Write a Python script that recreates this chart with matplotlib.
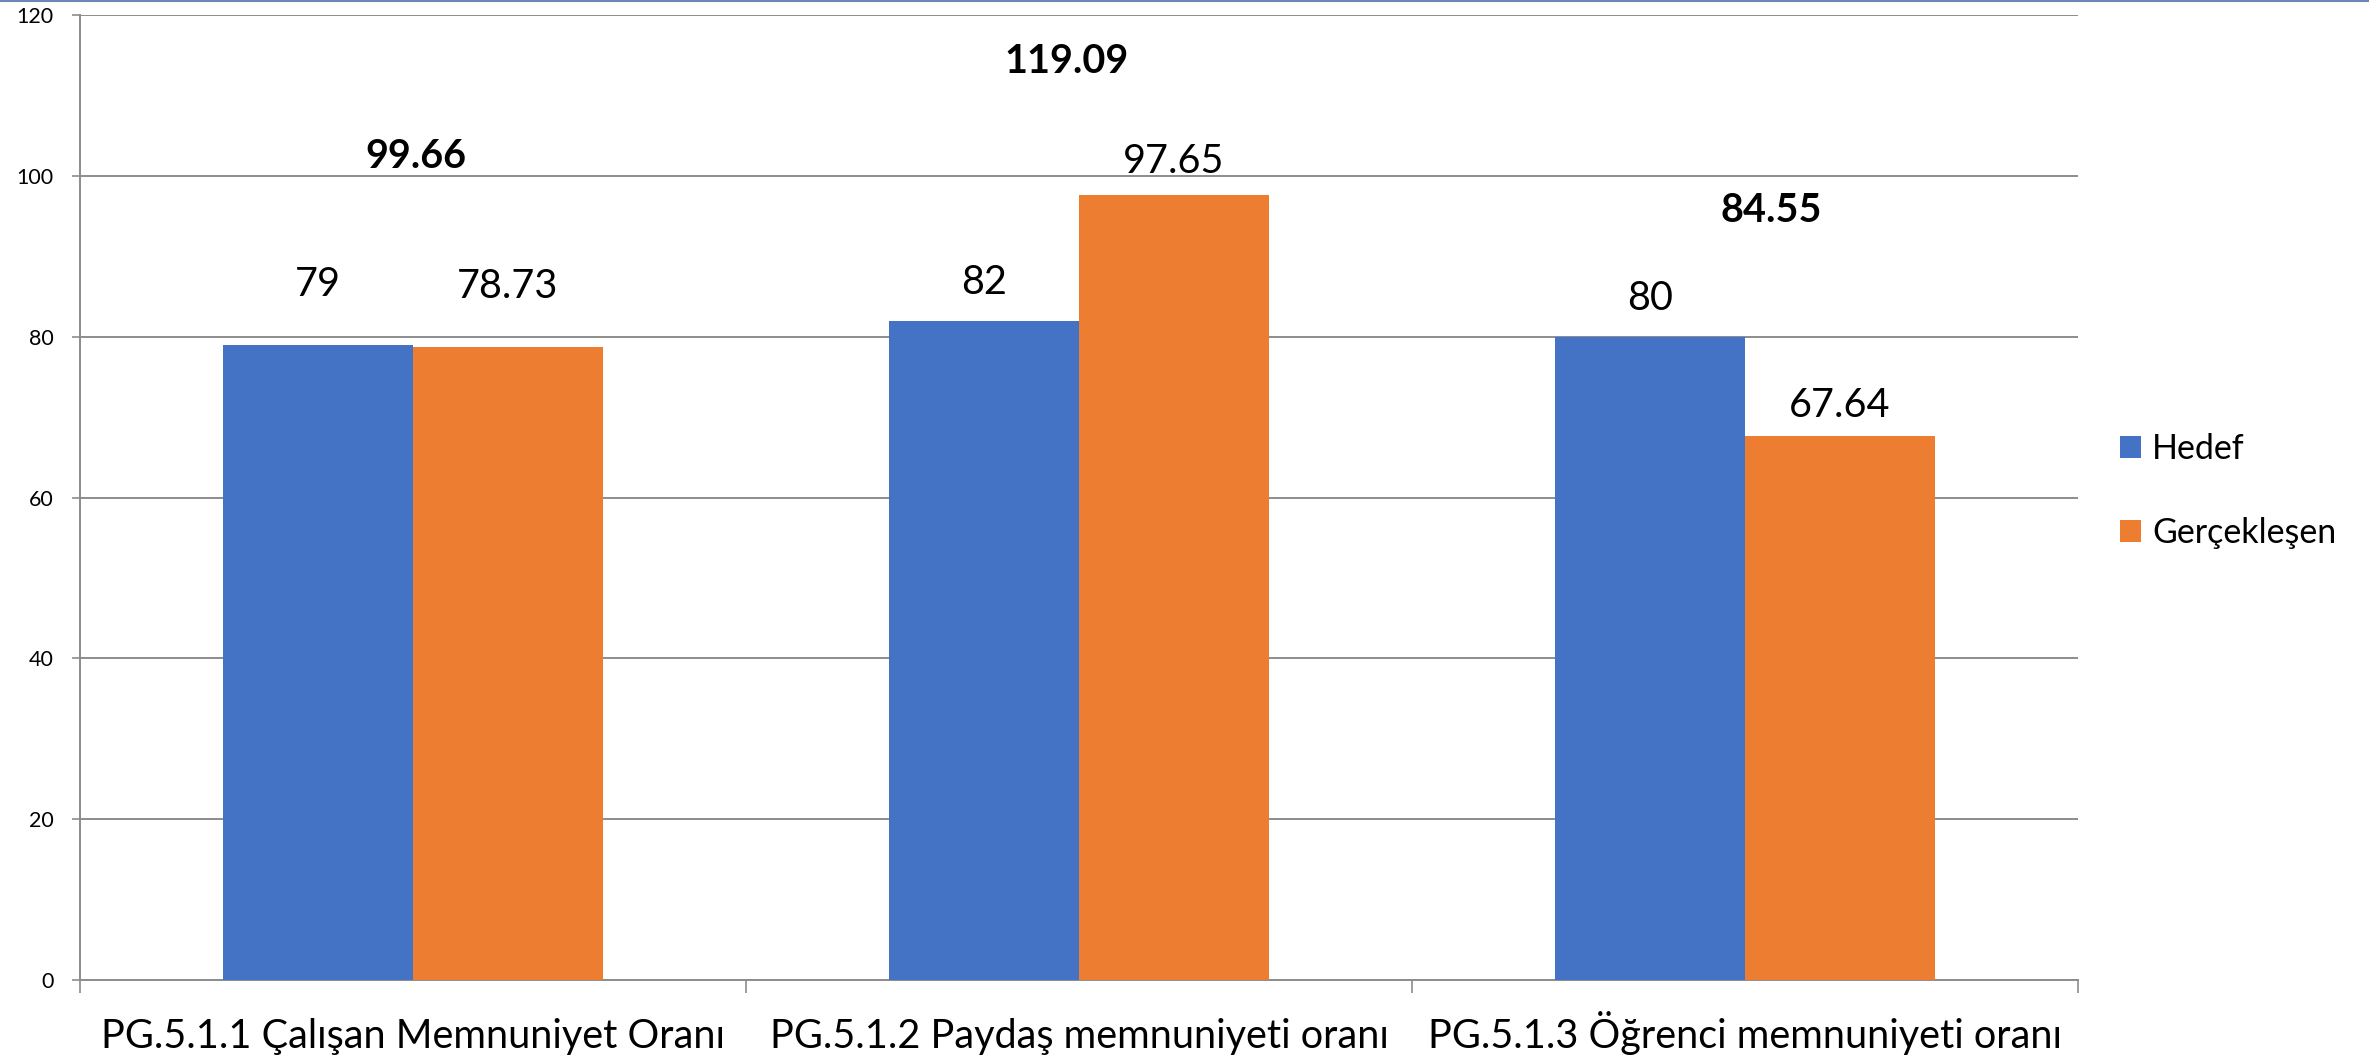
import numpy as np
import matplotlib
matplotlib.use("Agg")
import matplotlib.pyplot as plt
from matplotlib.lines import Line2D

plt.rcParams['font.family'] = ['Lato', 'DejaVu Sans']

# data
categories = ['PG.5.1.1 Çalışan Memnuniyet Oranı',
              'PG.5.1.2 Paydaş memnuniyeti oranı',
              'PG.5.1.3 Öğrenci memnuniyeti oranı']
hedef = [79, 82, 80]
gerceklesen = [78.73, 97.65, 67.64]
hedef_labels = ['79', '82', '80']
gerceklesen_labels = ['78.73', '97.65', '67.64']
oran = [99.66, 119.09, 84.55]          # bold ratio labels
oran_y = [101.0, 112.8, 94.3]          # where the bold labels sit
oran_dx = [0.005, -0.018, 0.04]
hedef_gap = [35, 19, 19]               # label offset above bar (pt)
gercek_gap = [35, 16, 14]

blue = '#4472C4'
orange = '#ED7D31'
grid_gray = '#8c8c8c'

fig = plt.figure(figsize=(23.69, 10.59), dpi=100)
ax = fig.add_axes([80 / 2369, 1 - 980 / 1059, 1998 / 2369, 965 / 1059])

x = np.arange(len(categories))
w = 0.285
b1 = ax.bar(x - w / 2, hedef, w, color=blue, label='Hedef', zorder=3)
b2 = ax.bar(x + w / 2, gerceklesen, w, color=orange, label='Gerçekleşen', zorder=3)

for i in range(len(x)):
    ax.annotate(hedef_labels[i], (x[i] - w / 2, hedef[i]), xytext=(0, hedef_gap[i]),
                textcoords='offset points', ha='center', va='baseline', fontsize=28.5)
    ax.annotate(gerceklesen_labels[i], (x[i] + w / 2, gerceklesen[i]),
                xytext=(0, gercek_gap[i]), textcoords='offset points',
                ha='center', va='baseline', fontsize=28.5)
    ax.text(x[i] + oran_dx[i], oran_y[i], f'{oran[i]:.2f}', ha='center', va='baseline',
            fontsize=28.5, fontweight='bold')

ax.set_xlim(-0.5, 2.5)
ax.set_ylim(0, 120)
ax.set_yticks(np.arange(0, 121, 20))
ax.yaxis.grid(True, color=grid_gray, linewidth=1.4, zorder=0)
ax.tick_params(axis='y', direction='out', length=5.8, width=1.2, color=grid_gray,
               labelsize=15.5, pad=13)

ax.set_xticks(x)
ax.set_xticklabels(categories)
ax.set_xticks([-0.5, 0.5, 1.5, 2.5], minor=True)
ax.tick_params(axis='x', which='major', length=0, labelsize=28.5, pad=49)
ax.tick_params(axis='x', which='minor', direction='out', length=9.4, width=1.2,
               color=grid_gray)
for lab in ax.get_xticklabels():
    lab.set_verticalalignment('baseline')

for s in ['top', 'right']:
    ax.spines[s].set_visible(False)
for s in ['left', 'bottom']:
    ax.spines[s].set_color(grid_gray)
    ax.spines[s].set_linewidth(1.4)

fig.legend(handles=[b1, b2], loc='center left',
           bbox_to_anchor=(2120 / 2369, 1 - 491 / 1059),
           frameon=False, fontsize=24.5, handlelength=0.62, handleheight=0.62,
           handletextpad=0.33, labelspacing=1.55, borderpad=0, borderaxespad=0)

fig.add_artist(Line2D([0, 1], [0.9995, 0.9995], color='#6d86b8', linewidth=1.5,
                      transform=fig.transFigure))

fig.savefig('out.png', dpi=100)
